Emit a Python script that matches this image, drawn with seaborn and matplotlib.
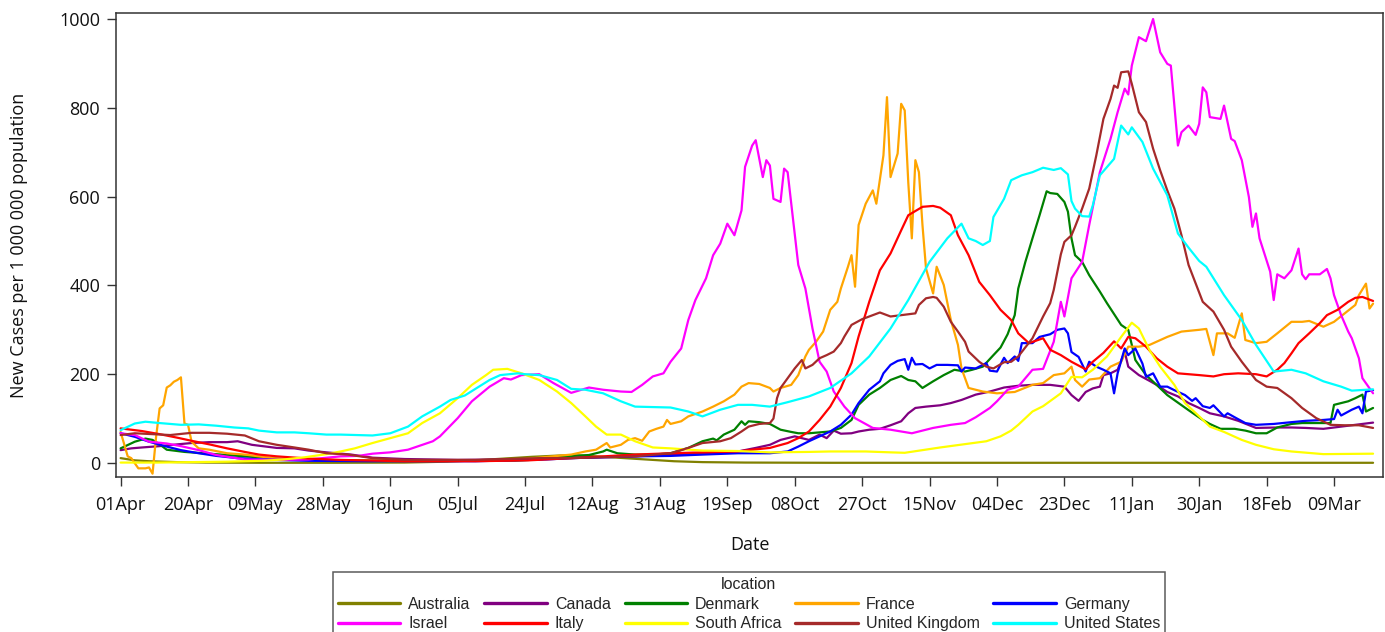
import matplotlib
matplotlib.use("Agg")
import matplotlib.pyplot as plt
import matplotlib.dates as mdates
import pandas as pd
import seaborn as sns

# Daily new cases per million (7-day smoothed), as (days since 2020-04-01, value)
START = pd.Timestamp("2020-04-01")

LOCATIONS = ["Australia", "Canada", "Denmark", "France", "Germany",
             "Israel", "Italy", "South Africa", "United Kingdom", "United States"]
COLORS = ["#808000", "#800080", "#008000", "#FFA500", "#0000FF",
          "#FF00FF", "#FF0000", "#FFFF00", "#A52A2A", "#00FFFF"]

AUSTRALIA = [(0, 11), (4, 6), (8, 4), (12, 3), (16, 2), (24, 1), (40, 0.5), (60, 0.5),
             (80, 1), (92, 3), (100, 6), (108, 10), (116, 14), (124, 17), (128, 17),
             (132, 16), (140, 12), (148, 8), (156, 4), (164, 2), (176, 1), (200, 0.5),
             (353, 0.5)]

CANADA = [(0, 29), (3, 33), (6, 35), (11, 38), (16, 42), (20, 45), (25, 47), (30, 47),
          (33, 49), (37, 41), (44, 34), (49, 33), (53, 28), (58, 24), (65, 19), (71, 12),
          (80, 9), (95, 7), (110, 8), (127, 11), (145, 15), (155, 19), (164, 22), (174, 26),
          (179, 34), (183, 41), (186, 52), (190, 60), (192, 56), (194, 52), (197, 64),
          (199, 56), (201, 73), (203, 66), (206, 67), (208, 71), (211, 75), (214, 77),
          (217, 85), (220, 94), (222, 112), (224, 124), (227, 127), (231, 130), (234, 135),
          (237, 142), (241, 154), (245, 161), (249, 170), (253, 174), (257, 176), (262, 176),
          (266, 172), (268, 153), (270, 140), (272, 160), (274, 168), (276, 172), (277, 198),
          (279, 202), (281, 210), (283, 251), (284, 217), (287, 198), (290, 185), (292, 176),
          (295, 160), (298, 150), (301, 135), (304, 124), (307, 112), (311, 105), (315, 95),
          (320, 79), (326, 80), (330, 80), (334, 79), (339, 77), (344, 82), (348, 86),
          (353, 91)]

DENMARK = [(0, 33), (4, 48), (7, 55), (9, 52), (11, 42), (13, 30), (18, 25), (25, 21),
           (30, 18), (35, 15), (44, 10), (53, 7), (64, 6), (80, 5), (110, 5), (118, 8),
           (125, 15), (132, 18), (136, 26), (137, 30), (140, 22), (145, 19), (150, 19),
           (155, 22), (160, 34), (164, 49), (167, 55), (168, 51), (170, 64), (173, 75),
           (175, 94), (176, 86), (177, 94), (180, 92), (183, 88), (186, 75), (189, 70),
           (191, 67), (194, 67), (200, 71), (203, 79), (206, 97), (208, 131), (211, 154),
           (214, 169), (217, 187), (220, 196), (222, 187), (224, 184), (226, 169), (229, 184),
           (232, 198), (235, 210), (238, 206), (240, 210), (243, 217), (246, 243), (248, 260),
           (250, 290), (252, 333), (253, 393), (255, 453), (257, 506), (259, 558), (261, 612),
           (262, 608), (264, 606), (266, 588), (267, 566), (268, 506), (269, 468), (271, 453),
           (273, 423), (276, 386), (278, 360), (282, 311), (284, 300), (286, 232), (289, 198),
           (292, 176), (295, 153), (298, 136), (301, 119), (305, 97), (307, 88), (310, 77),
           (314, 77), (317, 73), (320, 67), (323, 67), (326, 80), (330, 88), (333, 90),
           (337, 90), (341, 90), (342, 131), (346, 139), (348, 146), (350, 154), (351, 116),
           (353, 124)]

FRANCE = [(0, 70), (2, 15), (3, 11), (5, -12), (7, -12), (8, -10), (9, -24), (10, 59),
          (11, 123), (12, 130), (13, 170), (14, 175), (15, 183), (16, 187), (17, 193),
          (18, 89), (19, 86), (20, 48), (22, 33), (25, 30), (30, 22), (35, 19), (44, 10),
          (53, 7), (70, 5), (90, 5), (110, 6), (118, 12), (127, 19), (131, 26), (134, 30),
          (137, 45), (138, 35), (141, 41), (143, 52), (145, 56), (147, 50), (149, 71),
          (151, 77), (153, 82), (154, 97), (155, 88), (158, 94), (160, 105), (164, 116),
          (167, 127), (170, 139), (173, 154), (175, 172), (177, 180), (180, 178), (183, 169),
          (184, 161), (186, 169), (189, 176), (191, 198), (193, 240), (194, 255), (196, 273),
          (198, 296), (200, 345), (202, 363), (203, 393), (205, 442), (206, 468), (207, 397),
          (208, 536), (210, 584), (212, 614), (213, 584), (215, 693), (216, 824), (217, 644),
          (219, 697), (220, 809), (221, 794), (222, 632), (223, 506), (224, 682), (225, 655),
          (226, 536), (227, 438), (229, 382), (230, 442), (232, 401), (234, 322), (236, 266),
          (237, 213), (239, 169), (243, 161), (247, 157), (252, 160), (257, 176), (260, 180),
          (263, 198), (266, 202), (268, 217), (269, 187), (271, 172), (273, 188), (276, 191),
          (279, 217), (282, 228), (284, 262), (287, 262), (290, 266), (295, 284), (299, 296),
          (304, 300), (306, 302), (308, 243), (309, 292), (312, 292), (314, 282), (316, 337),
          (317, 277), (320, 270), (323, 273), (326, 292), (330, 318), (333, 318), (335, 320),
          (339, 307), (342, 318), (345, 337), (348, 356), (349, 378), (351, 404), (352, 348),
          (353, 359)]

GERMANY = [(0, 67), (4, 59), (8, 48), (13, 37), (17, 29), (22, 22), (27, 16), (33, 11),
           (40, 8), (53, 5), (70, 4), (100, 4), (120, 8), (127, 11), (145, 15), (155, 16),
           (164, 19), (174, 22), (183, 22), (188, 26), (191, 37), (194, 49), (197, 60),
           (200, 71), (203, 86), (206, 109), (208, 135), (211, 165), (214, 184), (215, 202),
           (217, 221), (219, 230), (221, 234), (222, 210), (223, 237), (224, 222), (226, 223),
           (228, 213), (230, 221), (233, 221), (236, 220), (237, 206), (238, 215), (241, 213),
           (244, 225), (245, 208), (247, 206), (249, 237), (250, 225), (252, 240), (253, 230),
           (254, 270), (257, 270), (259, 284), (262, 290), (264, 300), (266, 303), (267, 292),
           (268, 250), (270, 239), (272, 206), (273, 228), (275, 217), (277, 210), (279, 202),
           (280, 157), (281, 202), (283, 258), (284, 243), (286, 258), (288, 224), (289, 194),
           (291, 202), (293, 172), (295, 172), (297, 164), (300, 153), (302, 140), (303, 146),
           (305, 128), (307, 124), (308, 130), (311, 105), (312, 112), (314, 103), (317, 90),
           (320, 86), (325, 88), (330, 92), (334, 95), (339, 97), (342, 99), (343, 120),
           (344, 107), (347, 120), (349, 127), (350, 112), (351, 161), (353, 164)]

ISRAEL = [(0, 67), (4, 63), (8, 48), (13, 44), (17, 38), (22, 29), (27, 18), (31, 13),
          (35, 8), (44, 7), (53, 8), (62, 15), (67, 16), (71, 21), (76, 24), (81, 30),
          (85, 41), (88, 49), (90, 60), (95, 101), (99, 139), (104, 172), (108, 191),
          (110, 188), (113, 198), (118, 200), (122, 180), (127, 158), (132, 170), (136, 165),
          (141, 161), (144, 160), (147, 176), (150, 195), (153, 202), (155, 228), (158, 258),
          (160, 322), (162, 367), (165, 416), (167, 468), (169, 494), (171, 539), (173, 513),
          (175, 569), (176, 667), (178, 715), (179, 727), (181, 644), (182, 682), (183, 670),
          (184, 595), (186, 588), (187, 663), (188, 655), (191, 446), (193, 393), (195, 303),
          (197, 228), (199, 206), (201, 161), (204, 127), (207, 101), (212, 79), (217, 75),
          (223, 67), (229, 79), (234, 86), (238, 90), (241, 103), (245, 124), (247, 139),
          (250, 165), (253, 172), (257, 210), (260, 212), (263, 273), (265, 363), (266, 330),
          (268, 416), (271, 453), (273, 536), (276, 655), (279, 730), (281, 790), (283, 843),
          (284, 830), (285, 895), (287, 959), (289, 950), (291, 1000), (293, 925), (295, 899),
          (296, 895), (298, 715), (299, 745), (301, 760), (303, 739), (304, 764), (305, 846),
          (306, 835), (307, 779), (310, 775), (311, 805), (313, 730), (314, 725), (316, 682),
          (318, 599), (319, 532), (320, 562), (321, 506), (324, 431), (325, 367), (326, 425),
          (328, 416), (330, 434), (332, 483), (333, 425), (334, 414), (335, 425), (338, 425),
          (340, 437), (341, 416), (342, 378), (344, 333), (346, 296), (347, 281), (349, 236),
          (350, 191), (353, 157)]

ITALY = [(0, 78), (6, 72), (11, 65), (16, 57), (20, 50), (25, 42), (30, 33), (35, 25),
         (39, 19), (44, 15), (53, 10), (62, 7), (80, 4), (100, 4), (115, 6), (127, 11),
         (145, 19), (155, 22), (164, 24), (174, 26), (178, 30), (183, 34), (188, 45),
         (191, 56), (194, 71), (197, 97), (200, 127), (203, 169), (206, 225), (208, 285),
         (211, 363), (214, 434), (217, 472), (220, 524), (222, 558), (226, 577), (229, 579),
         (231, 575), (234, 558), (236, 513), (239, 468), (242, 408), (245, 378), (248, 345),
         (251, 322), (253, 292), (256, 270), (260, 281), (262, 255), (265, 243), (268, 228),
         (272, 211), (274, 228), (277, 248), (280, 274), (282, 258), (284, 284), (286, 281),
         (289, 262), (292, 236), (295, 217), (298, 202), (301, 200), (304, 198), (308, 195),
         (311, 200), (315, 202), (320, 200), (323, 195), (326, 210), (328, 225), (330, 247),
         (332, 270), (335, 292), (338, 315), (340, 333), (343, 345), (346, 363), (348, 372),
         (350, 374), (353, 365)]

SOUTH_AFRICA = [(0, 1), (10, 1), (20, 2), (30, 3), (40, 5), (46, 8), (52, 13), (58, 20),
                (62, 26), (66, 33), (71, 45), (76, 56), (81, 67), (85, 90), (90, 112),
                (95, 146), (99, 176), (103, 198), (105, 210), (109, 212), (113, 202),
                (118, 187), (123, 161), (127, 135), (131, 105), (134, 82), (137, 64), (141, 64),
                (145, 49), (150, 35), (155, 33), (164, 28), (174, 27), (183, 24), (194, 25),
                (200, 26), (210, 26), (217, 24), (221, 23), (231, 35), (244, 49), (248, 60),
                (251, 73), (253, 86), (257, 116), (260, 128), (265, 157), (268, 194), (271, 193),
                (274, 210), (278, 240), (282, 284), (285, 316), (287, 303), (290, 254), (293, 217),
                (297, 176), (300, 135), (304, 105), (307, 82), (311, 70), (316, 52), (320, 41),
                (325, 31), (330, 26), (339, 20), (353, 21)]

UNITED_KINGDOM = [(0, 63), (4, 67), (9, 65), (14, 63), (20, 68), (25, 68), (30, 66), (35, 62),
                  (39, 49), (44, 41), (49, 35), (53, 30), (58, 22), (64, 19), (71, 11), (80, 7),
                  (100, 7), (118, 11), (127, 11), (145, 15), (155, 22), (160, 34), (164, 45),
                  (169, 49), (172, 56), (175, 71), (177, 82), (180, 88), (183, 90), (184, 100),
                  (185, 146), (186, 169), (188, 191), (190, 213), (192, 232), (193, 213),
                  (195, 221), (197, 236), (199, 243), (201, 251), (203, 270), (204, 285),
                  (206, 311), (209, 324), (212, 333), (214, 339), (217, 330), (220, 333),
                  (222, 335), (224, 337), (225, 356), (227, 371), (229, 374), (230, 372),
                  (232, 352), (234, 318), (236, 296), (238, 273), (239, 251), (242, 228),
                  (244, 217), (246, 213), (249, 227), (251, 228), (253, 240), (257, 281),
                  (260, 330), (262, 360), (263, 390), (265, 470), (266, 498), (268, 513),
                  (269, 532), (271, 573), (273, 618), (275, 693), (277, 775), (279, 820),
                  (280, 850), (281, 845), (282, 880), (284, 882), (285, 854), (287, 790),
                  (289, 768), (291, 708), (293, 659), (295, 614), (297, 573), (299, 513),
                  (301, 446), (305, 363), (308, 341), (311, 300), (313, 262), (316, 228),
                  (320, 187), (323, 172), (326, 169), (330, 146), (333, 124), (337, 101),
                  (341, 86), (345, 85), (349, 85), (353, 79)]

UNITED_STATES = [(0, 74), (4, 89), (7, 93), (11, 90), (17, 86), (22, 87), (27, 84), (32, 80),
                 (36, 78), (39, 73), (44, 69), (49, 69), (53, 67), (58, 64), (62, 64), (71, 62),
                 (76, 67), (81, 82), (85, 105), (90, 127), (93, 142), (97, 152), (99, 162),
                 (104, 187), (107, 198), (112, 202), (114, 200), (118, 198), (123, 187),
                 (127, 167), (131, 165), (136, 157), (141, 139), (145, 127), (150, 126),
                 (155, 125), (160, 116), (164, 105), (169, 120), (174, 131), (178, 131),
                 (183, 127), (188, 137), (194, 150), (200, 169), (206, 202), (211, 240),
                 (217, 303), (222, 367), (228, 453), (233, 506), (237, 539), (239, 506),
                 (241, 500), (243, 491), (245, 500), (246, 554), (249, 595), (251, 637),
                 (254, 648), (257, 655), (260, 665), (263, 660), (265, 664), (267, 650),
                 (268, 590), (269, 573), (271, 556), (273, 555), (274, 580), (276, 648),
                 (280, 685), (282, 760), (284, 740), (285, 756), (288, 723), (291, 663),
                 (295, 603), (298, 517), (301, 485), (304, 455), (306, 442), (311, 378),
                 (316, 322), (320, 266), (325, 206), (330, 210), (334, 202), (339, 184),
                 (344, 172), (347, 163), (353, 166)]

SERIES = [AUSTRALIA, CANADA, DENMARK, FRANCE, GERMANY,
          ISRAEL, ITALY, SOUTH_AFRICA, UNITED_KINGDOM, UNITED_STATES]

# Long-form table for seaborn
rows = []
for loc, pts in zip(LOCATIONS, SERIES):
    for day, val in pts:
        rows.append((loc, START + pd.Timedelta(days=day), val))
df = pd.DataFrame(rows, columns=["location", "date", "cases"])

sns.set_style("ticks")
plt.rcParams["font.family"] = ["Open Sans", "DejaVu Sans"]

W, H = 1385, 632
fig = plt.figure(figsize=(W / 100, H / 100), dpi=100)
ax = fig.add_axes([116 / W, (H - 477) / H, (1383 - 116) / W, (477 - 13) / H])

sns.lineplot(data=df, x="date", y="cases", hue="location", hue_order=LOCATIONS,
             palette=dict(zip(LOCATIONS, COLORS)), linewidth=1.6,
             estimator=None, ax=ax)

# Axes limits and ticks
ax.set_xlim(START - pd.Timedelta(days=1.3), START + pd.Timedelta(days=355.8))
ax.set_ylim(-31.5, 1013.5)
ticks = pd.date_range("2020-04-01", "2021-03-09", freq="19D")
ax.set_xticks(ticks)
ax.xaxis.set_major_formatter(mdates.DateFormatter("%d%b"))
ax.set_yticks([0, 200, 400, 600, 800, 1000])

for side in ["left", "right", "top", "bottom"]:
    ax.spines[side].set_visible(True)
    ax.spines[side].set_color("#333333")
    ax.spines[side].set_linewidth(1.1)
ax.tick_params(axis="both", direction="out", length=6.5, width=1, color="#333333",
               labelsize=13, labelcolor="#111111")
ax.tick_params(axis="x", pad=7)
ax.tick_params(axis="y", pad=5)

ax.set_xlabel("Date", fontsize=13, color="#111111", labelpad=16)
ax.set_ylabel("New Cases per 1 000 000 population", fontsize=13,
              color="#111111", labelpad=22)

# Legend below the plot: 5 columns filled row by row
handles, labels = ax.get_legend_handles_labels()
if ax.get_legend() is not None:
    ax.get_legend().remove()
ncol, nrow = 5, 2
order = [r * ncol + c for c in range(ncol) for r in range(nrow)]
leg = ax.legend([handles[i] for i in order], [labels[i] for i in order],
                title="location", ncol=ncol,
                loc="upper center", bbox_to_anchor=(749 / W, 1 - 572 / H),
                bbox_transform=fig.transFigure, borderaxespad=0,
                frameon=True, fancybox=False,
                prop={"family": "Liberation Sans", "size": 11.5},
                handlelength=3.9, handletextpad=0.5, columnspacing=0.875,
                labelspacing=0.3, borderpad=0.3)
leg.get_title().set_fontfamily("Liberation Sans")
leg.get_title().set_fontsize(11.5)
leg.get_frame().set_edgecolor("#333333")
leg.get_frame().set_linewidth(1.1)
for h in leg.legend_handles:
    h.set_linewidth(2.4)

fig.savefig("out.png", dpi=100)
